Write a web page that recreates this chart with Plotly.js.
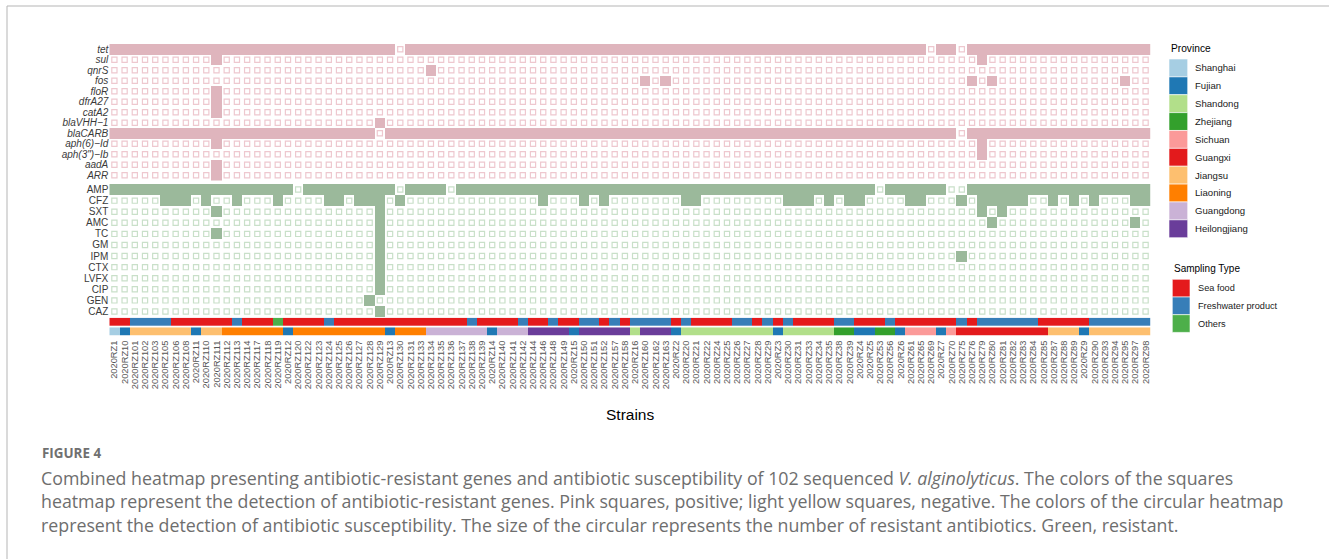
<!DOCTYPE html>
<html><head><meta charset="utf-8">
<script src="https://cdn.plot.ly/plotly-3.0.1.min.js"></script>
<style>html,body{margin:0;padding:0;background:#fff}</style>
</head><body><div id="chart" style="width:1329px;height:559px"></div>
<script>
// ---------- DATA ----------
const strains = ['2020RZ1','2020RZ10','2020RZ101','2020RZ102','2020RZ103','2020RZ105','2020RZ106','2020RZ108','2020RZ11','2020RZ110',
'2020RZ111','2020RZ112','2020RZ113','2020RZ114','2020RZ117','2020RZ118','2020RZ119','2020RZ12','2020RZ120','2020RZ122',
'2020RZ123','2020RZ124','2020RZ125','2020RZ126','2020RZ127','2020RZ128','2020RZ129','2020RZ13','2020RZ130','2020RZ131',
'2020RZ133','2020RZ134','2020RZ135','2020RZ136','2020RZ137','2020RZ138','2020RZ139','2020RZ14','2020RZ140','2020RZ141',
'2020RZ142','2020RZ144','2020RZ146','2020RZ148','2020RZ149','2020RZ15','2020RZ150','2020RZ151','2020RZ152','2020RZ157',
'2020RZ158','2020RZ16','2020RZ160','2020RZ162','2020RZ163','2020RZ2','2020RZ20','2020RZ21','2020RZ22','2020RZ24',
'2020RZ25','2020RZ26','2020RZ27','2020RZ28','2020RZ29','2020RZ3','2020RZ30','2020RZ31','2020RZ33','2020RZ34',
'2020RZ35','2020RZ38','2020RZ39','2020RZ4','2020RZ5','2020RZ53','2020RZ56','2020RZ6','2020RZ61','2020RZ65',
'2020RZ69','2020RZ7','2020RZ70','2020RZ75','2020RZ76','2020RZ79','2020RZ80','2020RZ81','2020RZ82','2020RZ83',
'2020RZ84','2020RZ85','2020RZ87','2020RZ88','2020RZ89','2020RZ9','2020RZ90','2020RZ93','2020RZ94','2020RZ95',
'2020RZ97','2020RZ98'];

const genes = ['tet','sul','qnrS','fos','floR','dfrA27','catA2','blaVHH\u22121','blaCARB','aph(6)\u2212Id','aph(3")\u2212Ib','aadA','ARR'];
// 1 = gene detected, 0 = not detected (one string per gene, strains in the order above, groups of 10)
const geneCalls = [
 "1111111111 1111111111 1111111101 1111111111 1111111111 1111111111 1111111111 1111111111 0110111111 1111111111 11", // tet
 "0000000000 1000000000 0000000000 0000000000 0000000000 0000000000 0000000000 0000000000 0000010000 0000000000 00", // sul
 "0000000000 0000000000 0000000000 0100000000 0000000000 0000000000 0000000000 0000000000 0000000000 0000000000 00", // qnrS
 "0000000000 0000000000 0000000000 0000000000 0000000000 0010100000 0000000000 0000000000 0000101000 0000000001 00", // fos
 "0000000000 1000000000 0000000000 0000000000 0000000000 0000000000 0000000000 0000000000 0000000000 0000000000 00", // floR
 "0000000000 1000000000 0000000000 0000000000 0000000000 0000000000 0000000000 0000000000 0000000000 0000000000 00", // dfrA27
 "0000000000 1000000000 0000000000 0000000000 0000000000 0000000000 0000000000 0000000000 0000000000 0000000000 00", // catA2
 "0000000000 0000000000 0000001000 0000000000 0000000000 0000000000 0000000000 0000000000 0000000000 0000000000 00", // blaVHH-1
 "1111111111 1111111111 1111110111 1111111111 1111111111 1111111111 1111111111 1111111111 1110111111 1111111111 11", // blaCARB
 "0000000000 1000000000 0000000000 0000000000 0000000000 0000000000 0000000000 0000000000 0000010000 0000000000 00", // aph(6)-Id
 "0000000000 0000000000 0000000000 0000000000 0000000000 0000000000 0000000000 0000000000 0000010000 0000000000 00", // aph(3'')-Ib
 "0000000000 1000000000 0000000000 0000000000 0000000000 0000000000 0000000000 0000000000 0000000000 0000000000 00", // aadA
 "0000000000 1000000000 0000000000 0000000000 0000000000 0000000000 0000000000 0000000000 0000000000 0000000000 00"  // ARR
];

const antibiotics = ['AMP','CFZ','SXT','AMC','TC','GM','IPM','CTX','LVFX','CIP','GEN','CAZ'];
// 1 = resistant
const abCalls = [
 "1111111111 1111111101 1111111101 1110111111 1111111111 1111111111 1111111111 1111101111 1100111111 1111111111 11", // AMP
 "0000011101 0010001000 0110111010 0000000000 0010001010 0000001100 0000001110 1011000011 0001011111 0010101000 11", // CFZ
 "0000000000 1000000000 0000001000 0000000000 0000000000 0000000000 0000000000 0000000000 0000010100 0000000000 00", // SXT
 "0000000000 0000000000 0000001000 0000000000 0000000000 0000000000 0000000000 0000000000 0000001000 0000000000 10", // AMC
 "0000000000 1000000000 0000001000 0000000000 0000000000 0000000000 0000000000 0000000000 0000000000 0000000000 00", // TC
 "0000000000 0000000000 0000001000 0000000000 0000000000 0000000000 0000000000 0000000000 0000000000 0000000000 00", // GM
 "0000000000 0000000000 0000001000 0000000000 0000000000 0000000000 0000000000 0000000000 0001000000 0000000000 00", // IPM
 "0000000000 0000000000 0000001000 0000000000 0000000000 0000000000 0000000000 0000000000 0000000000 0000000000 00", // CTX
 "0000000000 0000000000 0000001000 0000000000 0000000000 0000000000 0000000000 0000000000 0000000000 0000000000 00", // LVFX
 "0000000000 0000000000 0000001000 0000000000 0000000000 0000000000 0000000000 0000000000 0000000000 0000000000 00", // CIP
 "0000000000 0000000000 0000010000 0000000000 0000000000 0000000000 0000000000 0000000000 0000000000 0000000000 00", // GEN
 "0000000000 0000000000 0000001000 0000000000 0000000000 0000000000 0000000000 0000000000 0000000000 0000000000 00"  // CAZ
];

// Sampling type per strain: S = Sea food, F = Freshwater product, O = Others
const samplingTypes = ['Sea food','Freshwater product','Others'];
const samplingCodes = ['S','F','O'];
const samplingColors = ['#e41a1c','#377eb8','#4daf4a'];
const samplingOfStrain = "SSFFFFSSSS SSFSSSOSSS SFSSSSSSSS SSSSSFSSSS FSSFSSFFSF SFFFFSFSSS SFFSFSFSSS SFFSSSFSSS SSSFSFFFFF FSSSSSFFFF FF";

// Province per strain (codes below)
const provinces = ['Shanghai','Fujian','Shandong','Zhejiang','Sichuan','Guangxi','Jiangsu','Liaoning','Guangdong','Heilongjiang'];
const provinceCodes = ['a','f','d','z','c','x','j','l','g','h'];
const provinceColors = ['#a6cee3','#1f78b4','#b2df8a','#33a02c','#fb9a99','#e31a1c','#fdbf6f','#ff7f00','#cab2d6','#6a3d9a'];
const provinceOfStrain = "afjjjjjjfj jllllllfll lllllllfll lggggggfgg ghhhhfhhhh hdhhhfdddd dddddfdddd dzzffzzfcc cfcxxxxxxx xxjjjfjjjj jj";

// ---------- STYLE ----------
const W = 1329, H = 559;
const fx = px => px / W, fy = py => 1 - py / H;
const PINK = '#dfb5bd', PINK_EMPTY = '#eec8cf';
const GREEN = '#9bb99b', GREEN_EMPTY = '#c9e0c9';
const FONT = 'Liberation Sans, Arial, sans-serif';

const clean = s => s.replace(/ /g,'').split('');
const idx = strains.map((_, i) => i);
const geneM = geneCalls.map(s => clean(s).map(Number));
const abM = abCalls.map(s => clean(s).map(Number));
const sampArr = clean(samplingOfStrain);
const provArr = clean(provinceOfStrain);

function blockTraces(M, yaxis, fill, empty) {
  const z = M.map(r => r.map(v => v ? 1 : null));
  const ex = [], ey = [];
  M.forEach((r, j) => r.forEach((v, i) => { if (!v) { ex.push(i); ey.push(j); } }));
  return [
    {type:'heatmap', x: idx, y: M.map((_, j) => j), z, xaxis:'x', yaxis, zmin:0, zmax:1,
     colorscale:[[0,fill],[1,fill]], showscale:false, hoverinfo:'skip'},
    {type:'scatter', mode:'markers', x: ex, y: ey, xaxis:'x', yaxis, hoverinfo:'skip', showlegend:false,
     marker:{symbol:'square-open', size:5.2, color: empty, line:{width:1.2}}}
  ];
}

const traces = [];
traces.push(...blockTraces(geneM, 'y', PINK, PINK_EMPTY));
traces.push(...blockTraces(abM, 'y2', GREEN, GREEN_EMPTY));
samplingCodes.forEach((c, k) => {
  traces.push({type:'heatmap', x: idx, y:[0], z:[sampArr.map(v => v === c ? 1 : null)], xaxis:'x', yaxis:'y3',
    zmin:0, zmax:1, colorscale:[[0,samplingColors[k]],[1,samplingColors[k]]], showscale:false, hoverinfo:'skip', name: samplingTypes[k]});
});
provinceCodes.forEach((c, k) => {
  traces.push({type:'heatmap', x: idx, y:[0], z:[provArr.map(v => v === c ? 1 : null)], xaxis:'x', yaxis:'y4',
    zmin:0, zmax:1, colorscale:[[0,provinceColors[k]],[1,provinceColors[k]]], showscale:false, hoverinfo:'skip', name: provinces[k]});
});

const yBase = {showgrid:false, zeroline:false, showline:false, ticks:'', fixedrange:true,
  tickfont:{family:FONT, size:10, color:'#3a3a3a'}};

const shapes = [], annotations = [];
// frame lines
shapes.push({type:'line', xref:'paper', yref:'paper', x0:fx(7), x1:fx(1329), y0:fy(6), y1:fy(6), line:{color:'#b5b5b5', width:1}});
shapes.push({type:'line', xref:'paper', yref:'paper', x0:fx(7), x1:fx(7), y0:fy(6), y1:fy(559), line:{color:'#b5b5b5', width:1}});

// legends
annotations.push({xref:'paper', yref:'paper', x:fx(1169), y:fy(48.3), xanchor:'left', yanchor:'middle', showarrow:false,
  text:'Province', font:{family:FONT, size:10.2, color:'#000'}});
provinces.forEach((p, k) => {
  const y0 = 59 + k * 17.87;
  shapes.push({type:'rect', xref:'paper', yref:'paper', x0:fx(1169), x1:fx(1187.7), y0:fy(y0), y1:fy(y0 + 17.87),
    fillcolor: provinceColors[k], line:{width:0.6, color:'#ffffff'}});
  annotations.push({xref:'paper', yref:'paper', x:fx(1193.3), y:fy(y0 + 8.9), xanchor:'left', yanchor:'middle', showarrow:false,
    text:p, font:{family:FONT, size:9.6, color:'#1a1a1a'}});
});
annotations.push({xref:'paper', yref:'paper', x:fx(1172.3), y:fy(268.3), xanchor:'left', yanchor:'middle', showarrow:false,
  text:'Sampling Type', font:{family:FONT, size:10, color:'#000'}});
samplingTypes.forEach((p, k) => {
  const y0 = 279.3 + k * 17.7;
  shapes.push({type:'rect', xref:'paper', yref:'paper', x0:fx(1172.3), x1:fx(1190), y0:fy(y0), y1:fy(y0 + 17.7),
    fillcolor: samplingColors[k], line:{width:0.6, color:'#ffffff'}});
  annotations.push({xref:'paper', yref:'paper', x:fx(1195.7), y:fy(y0 + 8.85), xanchor:'left', yanchor:'middle', showarrow:false,
    text:p, font:{family:FONT, size:9.2, color:'#1a1a1a'}});
});

// axis title
annotations.push({xref:'paper', yref:'paper', x:fx(630), y:fy(414), xanchor:'center', yanchor:'middle', showarrow:false,
  text:'Strains', font:{family:FONT, size:15.5, color:'#000'}});

// caption
const CAP = 'Open Sans, Lato, sans-serif';
annotations.push({xref:'paper', yref:'paper', x:fx(40), y:fy(453), xanchor:'left', yanchor:'middle', showarrow:false,
  text:'<b>FIGURE 4</b>', font:{family:CAP, size:13.4, color:'#707070'}});
const capLines = [
 'Combined heatmap presenting antibiotic-resistant genes and antibiotic susceptibility of 102 sequenced <i>V. alginolyticus</i>. The colors of the squares',
 'heatmap represent the detection of antibiotic-resistant genes. Pink squares, positive; light yellow squares, negative. The colors of the circular heatmap',
 'represent the detection of antibiotic susceptibility. The size of the circular represents the number of resistant antibiotics. Green, resistant.'
];
capLines.forEach((t, k) => {
  annotations.push({xref:'paper', yref:'paper', x:fx(39), y:fy(477.5 + k * 23.5), xanchor:'left', yanchor:'middle', showarrow:false,
    text:t, font:{family:CAP, size:17.8, color:'#6e6e6e'}});
});

const layout = {
  width: W, height: H, margin:{l:0, r:0, t:0, b:0}, paper_bgcolor:'#fff', plot_bgcolor:'rgba(0,0,0,0)',
  showlegend:false, hovermode:false,
  xaxis:{domain:[fx(109.3), fx(1150.7)], range:[-0.5, strains.length - 0.5], anchor:'y4', tickmode:'array',
    tickvals: idx, ticktext: strains, tickangle:-90, ticks:'', showgrid:false, zeroline:false, showline:false, fixedrange:true,
    ticklabelstandoff:2, tickfont:{family:FONT, size:9.3, color:'#555'}},
  yaxis:Object.assign({}, yBase, {domain:[fy(180.5), fy(44)], range:[genes.length - 0.5, -0.5], anchor:'x',
    tickmode:'array', tickvals: genes.map((_, j) => j), ticktext: genes.map(g => '<i>' + g + '</i>')}),
  yaxis2:Object.assign({}, yBase, {domain:[fy(317), fy(184)], range:[antibiotics.length - 0.5, -0.5], anchor:'x',
    tickmode:'array', tickvals: antibiotics.map((_, j) => j), ticktext: antibiotics}),
  yaxis3:Object.assign({}, yBase, {domain:[fy(326), fy(317.7)], range:[-0.5, 0.5], anchor:'x', showticklabels:false}),
  yaxis4:Object.assign({}, yBase, {domain:[fy(335.7), fy(327.3)], range:[-0.5, 0.5], anchor:'x', showticklabels:false}),
  shapes, annotations
};

Plotly.newPlot('chart', traces, layout, {displayModeBar:false, staticPlot:true});
</script></body></html>
